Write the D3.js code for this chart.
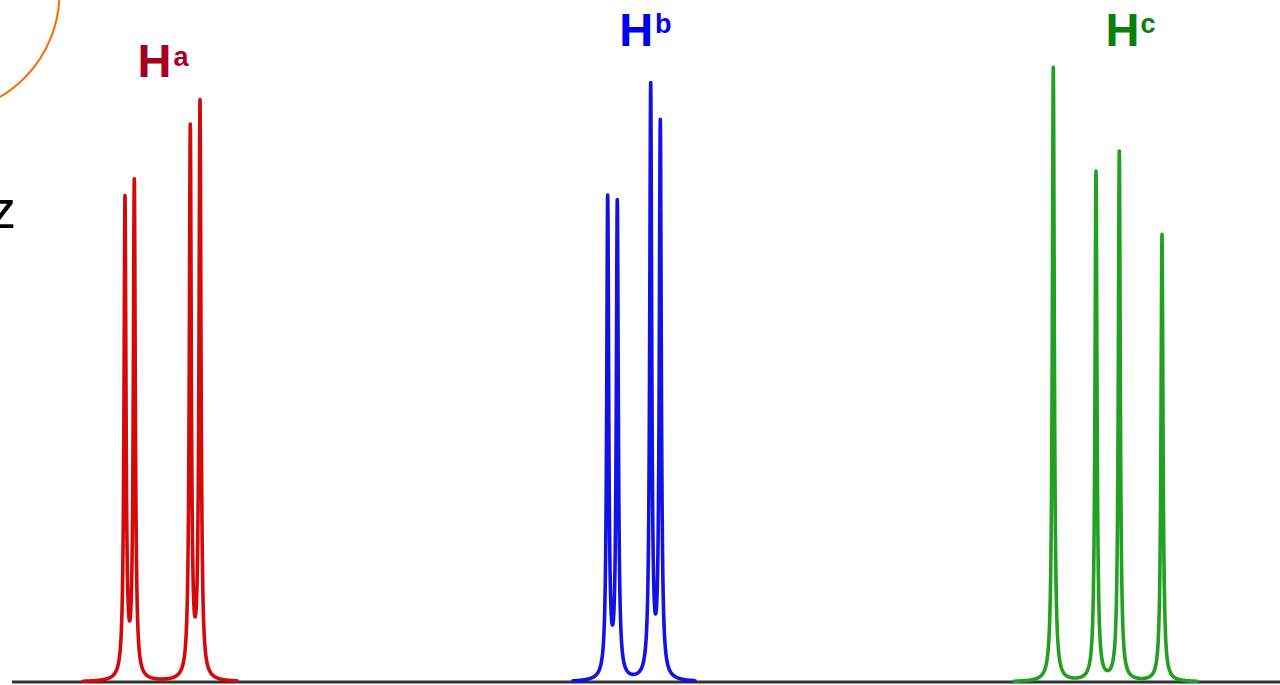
<!DOCTYPE html>
<html>
<head>
<meta charset="utf-8">
<script src="https://cdn.jsdelivr.net/npm/d3@7"></script>
<style>
  html, body { margin: 0; padding: 0; background: #fff; }
  svg { display: block; }
  text { font-family: "Liberation Sans", Arial, sans-serif; }
</style>
</head>
<body>
<svg id="chart" width="1280" height="685"></svg>
<script>
// ---- data (arbitrary frequency units along x, intensity units along y) ----
const multiplets = ["Ha", "Hb", "Hc"];
const haShifts  = [125.0, 134.3, 190.3, 200.0];
const haHeights = [478, 495, 549, 574];
const hbShifts  = [607.7, 617.3, 650.7, 660.3];
const hbHeights = [479, 474, 590, 553];
const hcShifts  = [1053.3, 1096.0, 1119.3, 1162.0];
const hcHeights = [614, 509, 529, 447];
const haRange = [83, 237];
const hbRange = [573, 695];
const hcRange = [1014, 1197];
const lineHalfWidth = 1.2;      // Lorentzian half width at half height
const spectrumRange = [12, 1280];

// ---- layout ----
const W = 1280, H = 685;
const svg = d3.select("#chart");
const x = d3.scaleLinear().domain([0, 1280]).range([0, W]);
const y = d3.scaleLinear().domain([0, 682]).range([682, 0]);

const groups = [
  { name: multiplets[0], shifts: haShifts, heights: haHeights, range: haRange, color: "#d40a0a", label: "#a50021" },
  { name: multiplets[1], shifts: hbShifts, heights: hbHeights, range: hbRange, color: "#1212e6", label: "#0000f0" },
  { name: multiplets[2], shifts: hcShifts, heights: hcHeights, range: hcRange, color: "#22a022", label: "#0a800a" }
];

function lorentz(xv, shifts, heights) {
  let s = 0;
  const w2 = lineHalfWidth * lineHalfWidth;
  for (let i = 0; i < shifts.length; i++) {
    const d = xv - shifts[i];
    s += heights[i] * w2 / (d * d + w2);
  }
  return s;
}

const line = d3.line().x(d => x(d[0])).y(d => y(d[1]));

// baseline
svg.append("line")
  .attr("x1", x(spectrumRange[0])).attr("x2", x(spectrumRange[1]))
  .attr("y1", y(0)).attr("y2", y(0))
  .attr("stroke", "#333").attr("stroke-width", 3);

// multiplets
groups.forEach(g => {
  const pts = [];
  for (let xv = g.range[0]; xv <= g.range[1]; xv += 0.1) {
    pts.push([xv, lorentz(xv, g.shifts, g.heights)]);
  }
  svg.append("path")
    .attr("d", line(pts))
    .attr("fill", "none")
    .attr("stroke", g.color)
    .attr("stroke-width", 3.6)
    .attr("stroke-linejoin", "round")
    .attr("stroke-linecap", "round");
});

// labels
const labelPos = [
  { hx: 137.6, hy: 77, sx: 173.5, sy: 66, sup: "a" },
  { hx: 619.3, hy: 46, sx: 655, sy: 33, sup: "b" },
  { hx: 1105.6, hy: 46, sx: 1140.5, sy: 33, sup: "c" }
];
groups.forEach((g, i) => {
  const p = labelPos[i];
  svg.append("text").attr("x", p.hx).attr("y", p.hy)
    .attr("font-size", 47).attr("font-weight", "bold")
    .attr("fill", g.label).text("H");
  svg.append("text").attr("x", p.sx).attr("y", p.sy)
    .attr("font-size", 27).attr("font-weight", "bold")
    .attr("fill", g.label).text(p.sup);
});

// partial "Hz" text at left edge (cut off as in the original)
svg.append("text").attr("x", 16).attr("y", 228)
  .attr("text-anchor", "end").attr("font-size", 54)
  .attr("fill", "#000").text("Hz");

// orange arc at top-left
svg.append("circle")
  .attr("cx", -61).attr("cy", -7).attr("r", 120.5)
  .attr("fill", "none").attr("stroke", "#ff6a00").attr("stroke-width", 2);
</script>
</body>
</html>
